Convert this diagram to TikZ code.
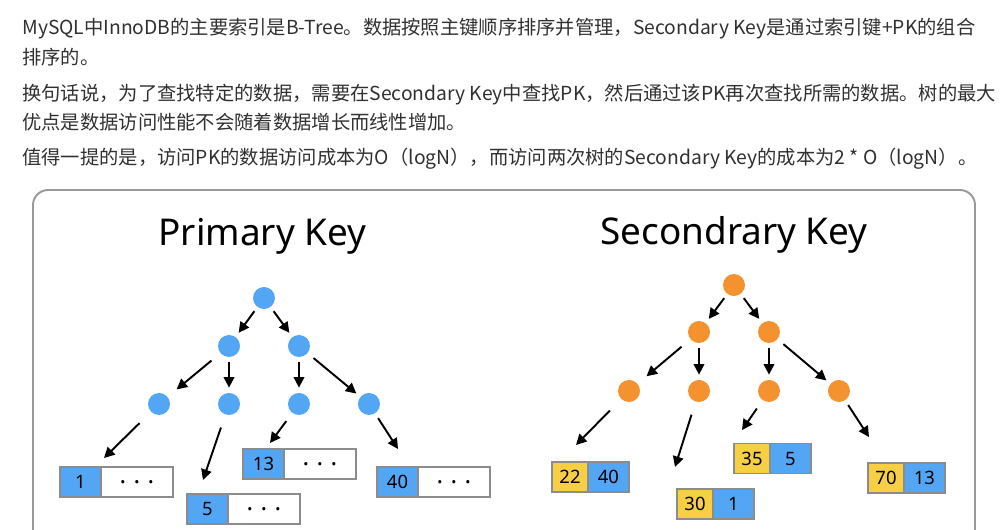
\documentclass[tikz,border=0pt]{standalone}
\usepackage{fontspec}
\setmainfont{Noto Sans}
\newfontfamily\cjkfont{Noto Sans CJK SC}
\usetikzlibrary{positioning,arrows.meta}

\definecolor{pkblue}{HTML}{52A6F4}
\definecolor{skorange}{HTML}{F3922F}
\definecolor{skyellow}{HTML}{F6CF45}
\definecolor{cellgray}{HTML}{8C8C8C}
\definecolor{framegray}{HTML}{999999}
\definecolor{textgray}{HTML}{303030}

\newcommand{\rowdots}{\textbf{\fontsize{14}{14}\selectfont.\hspace{0.3em}.\hspace{0.3em}.}}

\begin{document}
\begin{tikzpicture}[
  x=0.02cm, y=-0.02cm,
  node distance=1.16cm,
  line/.style={anchor=base west, inner sep=0pt, text=textgray, font=\cjkfont\fontsize{10.98}{14}\selectfont},
  title/.style={anchor=base, inner sep=0pt, font=\fontsize{21}{25}\selectfont},
  pk/.style={circle, fill=pkblue, minimum size=0.44cm, inner sep=0pt},
  sk/.style={circle, fill=skorange, minimum size=0.44cm, inner sep=0pt},
  cell/.style={draw=cellgray, line width=1pt, outer sep=0pt, inner sep=0pt, minimum height=0.6cm, font=\fontsize{10.5}{12}\selectfont},
  arrow/.style={-{Triangle[length=6pt,width=6pt]}, line width=1.1pt, shorten <=0.1cm, shorten >=0.1cm}
]
\useasboundingbox (0,0) rectangle (1005,529);
\clip (0,0) rectangle (1005,529);

% text above the figure
\node[line] (t1) at (22,34.5) {MySQL中InnoDB的主要索引是B-Tree。数据按照主键顺序排序并管理，Secondary Key是通过索引键+PK的组合};
\node[line] (t2) at (22,64.5) {排序的。};
\node[line] (t3) at (22,100.5) {换句话说，为了查找特定的数据，需要在Secondary Key中查找PK，然后通过该PK再次查找所需的数据。树的最大};
\node[line] (t4) at (22,129.5) {优点是数据访问性能不会随着数据增长而线性增加。};
\node[line] (t5) at (22,164.5) {值得一提的是，访问PK的数据访问成本为O（logN），而访问两次树的Secondary Key的成本为2 * O（logN）。};

% frame
\draw[framegray, line width=1.1pt, rounded corners=0.3cm] (33,560) -- (33,190) -- (975,190) -- (975,560);

\node[title] (ptitle) at (262.5,245) {Primary Key};
\node[title] (stitle) at (734,244) {Secondrary Key};

% primary key tree
\node[pk] (p) at (264,298) {};
\node[pk, node distance=0.96cm, below of=p, xshift=-0.70cm] (pl) {};
\node[pk, node distance=0.96cm, below of=p, xshift=0.70cm] (pr) {};
\node[pk, below of=pl, xshift=-1.40cm] (pll) {};
\node[pk, below of=pl] (plr) {};
\node[pk, below of=pr] (prl) {};
\node[pk, below of=pr, xshift=1.40cm] (prr) {};

\node[cell, fill=pkblue, minimum width=0.82cm] (pk1) at (80.5,482) {1};
\node[cell, fill=white, minimum width=1.44cm, right=0pt of pk1] (pv1) {\rowdots};
\node[cell, fill=pkblue, minimum width=0.82cm] (pk2) at (207.5,509) {5};
\node[cell, fill=white, minimum width=1.44cm, right=0pt of pk2] (pv2) {\rowdots};
\node[cell, fill=pkblue, minimum width=0.82cm] (pk3) at (263.5,464) {13};
\node[cell, fill=white, minimum width=1.44cm, right=0pt of pk3] (pv3) {\rowdots};
\node[cell, fill=pkblue, minimum width=0.82cm] (pk4) at (397.5,482) {40};
\node[cell, fill=white, minimum width=1.44cm, right=0pt of pk4] (pv4) {\rowdots};

\coordinate (pe1) at (104,458);
\coordinate (pe2) at (203,480);
\coordinate (pe3) at (270,443);
\coordinate (pe4) at (398,449);

\draw[arrow] (p) -- (pl);
\draw[arrow] (p) -- (pr);
\draw[arrow, shorten <=0.23cm, shorten >=0.23cm] (pl) -- (pll);
\draw[arrow] (pl) -- (plr);
\draw[arrow] (pr) -- (prl);
\draw[arrow, shorten <=0.15cm] (pr) -- (prr);
\draw[arrow, shorten <=0.32cm, shorten >=0pt] (pll) -- (pe1);
\draw[arrow, shorten <=0.27cm, shorten >=0pt] (plr) -- (pe2);
\draw[arrow, shorten <=0.2cm, shorten >=0pt] (prl) -- (pe3);
\draw[arrow, shorten <=0.11cm, shorten >=0pt] (prr) -- (pe4);

% secondary key tree
\node[sk] (s) at (734,285) {};
\node[sk, node distance=0.94cm, below of=s, xshift=-0.70cm] (sl) {};
\node[sk, node distance=0.94cm, below of=s, xshift=0.70cm] (sr) {};
\node[sk, node distance=1.18cm, below of=sl, xshift=-1.40cm] (sll) {};
\node[sk, node distance=1.18cm, below of=sl] (slr) {};
\node[sk, node distance=1.18cm, below of=sr] (srl) {};
\node[sk, node distance=1.18cm, below of=sr, xshift=1.40cm] (srr) {};

\node[cell, fill=skyellow, minimum width=0.72cm] (sk1) at (570,477) {22};
\node[cell, fill=pkblue, minimum width=0.82cm, right=0pt of sk1] (sv1) {40};
\node[cell, fill=skyellow, minimum width=0.72cm] (sk2) at (695,504) {30};
\node[cell, fill=pkblue, minimum width=0.82cm, right=0pt of sk2] (sv2) {1};
\node[cell, fill=skyellow, minimum width=0.72cm] (sk3) at (752,458.5) {35};
\node[cell, fill=pkblue, minimum width=0.82cm, right=0pt of sk3] (sv3) {5};
\node[cell, fill=skyellow, minimum width=0.72cm] (sk4) at (886,478) {70};
\node[cell, fill=pkblue, minimum width=0.82cm, right=0pt of sk4] (sv4) {13};

\coordinate (se1) at (576,445);
\coordinate (se2) at (675,467);
\coordinate (se3) at (742,430);
\coordinate (se4) at (869,437);

\draw[arrow] (s) -- (sl);
\draw[arrow] (s) -- (sr);
\draw[arrow, shorten <=0.23cm, shorten >=0.23cm] (sl) -- (sll);
\draw[arrow] (sl) -- (slr);
\draw[arrow] (sr) -- (srl);
\draw[arrow, shorten <=0.15cm] (sr) -- (srr);
\draw[arrow, shorten <=0.32cm, shorten >=0pt] (sll) -- (se1);
\draw[arrow, shorten <=0.27cm, shorten >=0pt] (slr) -- (se2);
\draw[arrow, shorten <=0.2cm, shorten >=0pt] (srl) -- (se3);
\draw[arrow, shorten <=0.11cm, shorten >=0pt] (srr) -- (se4);
\end{tikzpicture}
\end{document}
